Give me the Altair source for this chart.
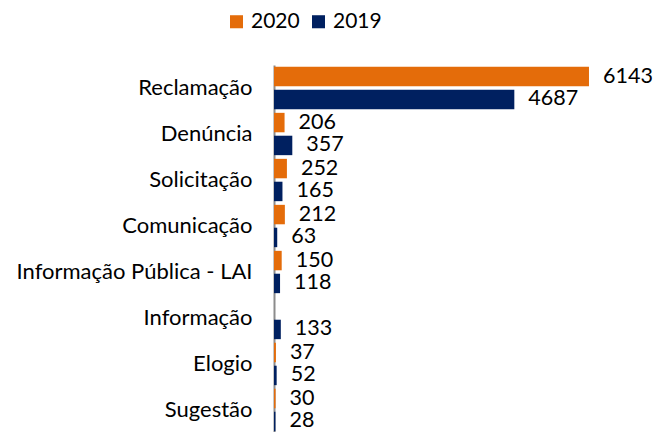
import altair as alt
import pandas as pd

categories = ["Reclamação", "Denúncia", "Solicitação", "Comunicação",
              "Informação Pública - LAI", "Informação", "Elogio", "Sugestão"]
years = ["2020", "2019"]
values_2020 = [6143, 206, 252, 212, 150, None, 37, 30]
values_2019 = [4687, 357, 165, 63, 118, 133, 52, 28]
colors = ["#E46C0A", "#002060"]

rows = []
for c, a, b in zip(categories, values_2020, values_2019):
    if a is not None:
        rows.append({"cat": c, "year": "2020", "value": a})
    rows.append({"cat": c, "year": "2019", "value": b})
df = pd.DataFrame(rows)

FONT = "Lato"

y = alt.Y("cat:N", sort=categories,
          scale=alt.Scale(paddingInner=0.08, paddingOuter=0.04),
          axis=alt.Axis(title=None, ticks=False, labelPadding=22, labelFontSize=22,
                        labelFont=FONT, labelColor="#000000", domainColor="#8c8c8c",
                        domainWidth=2, labelLimit=300))
yoff = alt.YOffset("year:N", sort=years, scale=alt.Scale(paddingInner=0.15))
x = alt.X("value:Q", scale=alt.Scale(domain=[0, 7411], nice=False), axis=None)
color = alt.Color("year:N", sort=years,
                  scale=alt.Scale(domain=years, range=colors),
                  legend=alt.Legend(title=None, orient="none", legendX=-48, legendY=-54,
                                    direction="horizontal", symbolType="square",
                                    symbolSize=170, symbolStrokeWidth=0,
                                    labelFontSize=21, labelFont=FONT, labelColor="#000000",
                                    labelOffset=4, columnPadding=8))

bars = alt.Chart(df).mark_bar().encode(x=x, y=y, yOffset=yoff, color=color)
text = alt.Chart(df).mark_text(align="left", baseline="middle", dx=14, fontSize=21.5,
                               font=FONT, color="#000000").encode(
    x=x, y=y, yOffset=yoff, text="value:Q")

chart = (bars + text).properties(
    width=380, height=368,
    padding={"left": 266, "top": 57, "right": 0, "bottom": 0},
    autosize=alt.AutoSizeParams(type="none"),
).configure_view(stroke=None)

chart.save("out.html", embed_options={"renderer": "svg", "actions": False})
